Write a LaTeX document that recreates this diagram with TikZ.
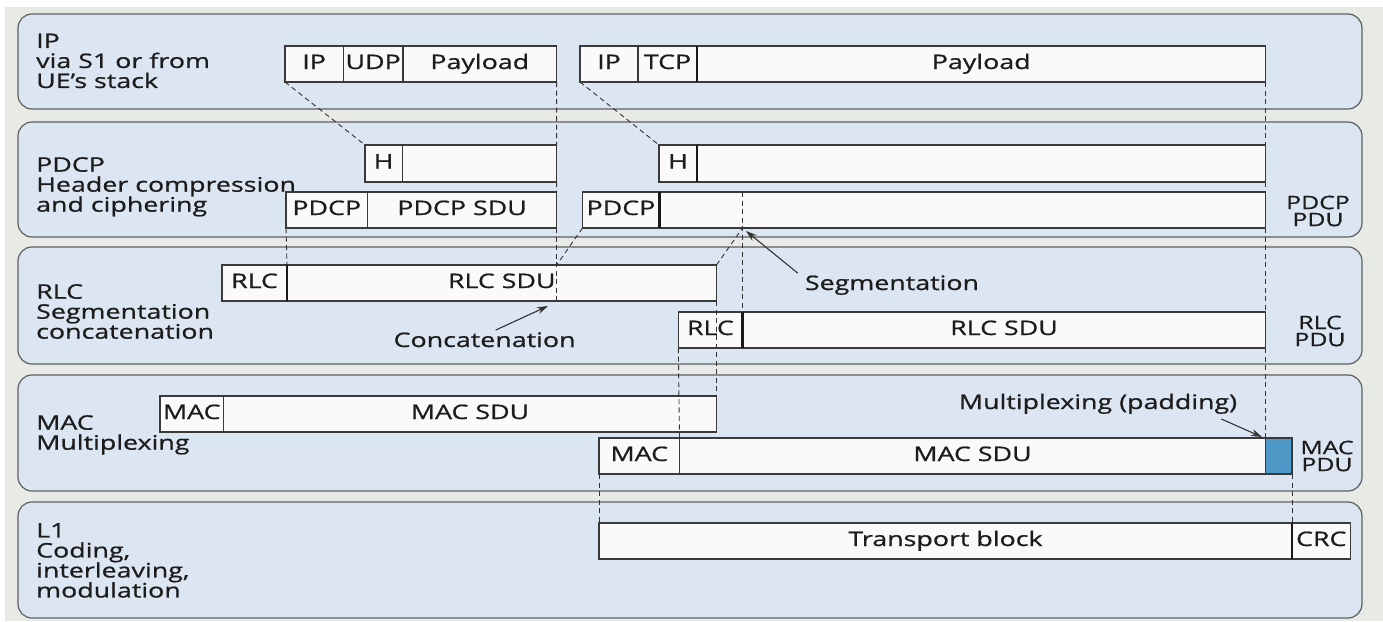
\documentclass[tikz,border=0pt]{standalone}
\usepackage{fontspec}
\setmainfont{Open Sans}[FakeStretch=1.34, FakeBold=0.8]
\usetikzlibrary{arrows.meta}

\definecolor{pagebg}{HTML}{E8EAE6}
\definecolor{layerfill}{HTML}{DCE6F3}
\definecolor{layerline}{HTML}{5C6060}
\definecolor{cellfill}{HTML}{FAFAFA}
\definecolor{cellline}{HTML}{3A3A3A}
\definecolor{padfill}{HTML}{4E98C8}
\definecolor{inktext}{HTML}{1C1C1C}

\tikzset{
  layer/.style={fill=layerfill, draw=layerline, line width=1.2pt, rounded corners=14pt},
  cellbox/.style={draw=cellline, fill=cellfill, line width=1.2pt, inner sep=0pt,
    outer sep=0pt, text=inktext, text height=14pt, text depth=4pt},
  thickdiv/.style={line width=2.6pt, draw=black!90},
  guide/.style={draw=black!80, line width=0.9pt, dash pattern=on 5pt off 3.5pt},
  pointer/.style={draw=black!80, line width=1.1pt, -{Stealth[length=11pt,width=7pt]}},
  layername/.style={anchor=north west, align=left, inner sep=0pt, text=inktext},
  pduname/.style={align=center, inner sep=0pt, text=inktext,
    font=\fontsize{18.5}{17}\selectfont},
  note/.style={anchor=base, inner sep=0pt, text=inktext},
}

% one field of a PDU: name, left, right, top, bottom, text
\newcommand{\pdufield}[6]{%
  \node[cellbox, minimum width={((#3)-(#2))*1pt}, minimum height={((#5)-(#4))*1pt}]
    (#1) at ({((#2)+(#3))/2},{((#4)+(#5))/2}) {#6};}

\begin{document}
\begin{tikzpicture}[x=1pt, y=-1pt, font=\fontsize{20}{20}\selectfont]
\useasboundingbox (0,0) rectangle (1383,621);
\fill[white] (0,0) rectangle (1383,621);
\fill[pagebg] (5,7) rectangle (1383,621);

% protocol layers
\draw[layer] (18,14) rectangle (1362,109);
\draw[layer] (18,122) rectangle (1362,237);
\draw[layer] (18,247) rectangle (1362,364);
\draw[layer] (18,375) rectangle (1362,491);
\draw[layer] (18,502) rectangle (1362,618);

\node[layername] (lip) at (36,33.5) {IP\\via S1 or from\\UE’s stack};
\node[layername] (lpdcp) at (36,157) {PDCP\\Header compression\\and ciphering};
\node[layername] (lrlc) at (36,284) {RLC\\Segmentation\\concatenation};
\node[layername] (lmac) at (36,415) {MAC\\Multiplexing};
\node[layername] (ll1) at (36,523) {L1\\Coding,\\interleaving,\\modulation};

% IP packets
\pdufield{ip1}{285}{343.3}{46}{82}{IP}
\pdufield{udp1}{343.3}{403}{46}{82}{UDP}
\pdufield{pay1}{403}{556.6}{46}{82}{Payload}
\pdufield{ip2}{580}{638}{46}{82}{IP}
\pdufield{tcp2}{638}{697}{46}{82}{TCP}
\pdufield{pay2}{697}{1265.5}{46}{82}{Payload}

% compressed headers
\pdufield{h1}{365}{402.3}{145}{182}{H}
\pdufield{hb1}{402.3}{556.6}{145}{182}{}
\pdufield{h2}{659}{697}{145}{182}{H}
\pdufield{hb2}{697}{1265.5}{145}{182}{}

% PDCP PDUs
\pdufield{pdcp1}{286}{367.5}{192}{228}{PDCP}
\pdufield{psdu1}{367.5}{556.6}{192}{228}{PDCP SDU}
\pdufield{pdcp2}{582.5}{659.4}{192}{228}{PDCP}
\pdufield{psdu2}{659.4}{1265.5}{192}{228}{}

% RLC PDUs
\pdufield{rlc1}{222}{287}{265}{301}{RLC}
\pdufield{rsdu1}{287}{716.5}{265}{301}{RLC SDU}
\pdufield{rlc2}{678.3}{742.5}{312}{348}{RLC}
\pdufield{rsdu2}{742.5}{1265.5}{312}{348}{RLC SDU}

% MAC PDUs
\pdufield{mac1}{160}{223.5}{396}{432}{MAC}
\pdufield{msdu1}{223.5}{716.5}{396}{432}{MAC SDU}
\pdufield{mac2}{599}{679.5}{438}{474}{MAC}
\pdufield{msdu2}{679.5}{1265.5}{438}{474}{MAC SDU}
\node[cellbox, fill=padfill, minimum width=26.5pt, minimum height=36pt] (pad) at (1278.75,456) {};

% transport block
\pdufield{tb}{599}{1292}{523}{559}{Transport block}
\pdufield{crc}{1292}{1350.5}{523}{559}{CRC}

% header boundaries
\draw[thickdiv] (tcp2.north east) -- (tcp2.south east);
\draw[thickdiv] (h2.north east) -- (h2.south east);
\draw[thickdiv] (pdcp2.north east) -- (pdcp2.south east);
\draw[thickdiv] (rlc1.north east) -- (rlc1.south east);
\draw[thickdiv] (rlc2.north east) -- (rlc2.south east);
\draw[thickdiv] (tb.north east) -- (tb.south east);

% mapping between layers
\coordinate (ctop) at (psdu1.east |- rsdu1.north);
\coordinate (cbot) at (psdu1.east |- rsdu1.south);
\coordinate (stop) at (rlc2.east |- psdu2.north);
\coordinate (sbot) at (rlc2.east |- psdu2.south);
\draw[guide] (ip1.south west) -- (h1.north west);
\draw[guide] (ip2.south west) -- (h2.north west);
\draw[guide] (pay1.south east) -- (hb1.north east);
\draw[guide] (hb1.south east) -- (psdu1.north east);
\draw[guide] (psdu1.south east) -- (cbot);
\draw[guide] (pdcp1.south west) -- (rsdu1.north west);
\draw[guide] (pdcp2.south west) -- (ctop);
\draw[guide] (stop) -- (rlc2.north east);
\draw[guide] (rsdu1.north east) -- (sbot);
\draw[guide] (rsdu1.south east) -- (msdu1.north east);
\draw[guide] (pay2.south east) -- (hb2.north east);
\draw[guide] (hb2.south east) -- (psdu2.north east);
\draw[guide] (psdu2.south east) -- (rsdu2.north east);
\draw[guide] (rsdu2.south east) -- (msdu2.north east);
\draw[guide] (rlc2.south west) -- (mac2.north east);
\draw[guide] (mac2.south west) -- (tb.north west);
\draw[guide] (pad.south east) -- (crc.north west);

% PDU names
\node[pduname] (pdcppdu) at (1318,211) {PDCP\\PDU};
\node[pduname] (rlcpdu) at (1320,331) {RLC\\PDU};
\node[pduname] (macpdu) at (1327,456) {MAC\\PDU};

% annotations
\node[note] (concat) at (484.6,347) {Concatenation};
\coordinate (concattip) at (548,306);
\draw[pointer] ([xshift=11pt,yshift=2pt]concat.north) -- (concattip);
\node[note] (segm) at (892,290) {Segmentation};
\coordinate (segtip) at (746,231);
\draw[pointer] ([xshift=-7pt,yshift=2pt]segm.north west) -- (segtip);
\node[note] (mux) at (1098,409) {Multiplexing (padding)};
\coordinate (muxtip) at (1262,437);
\draw[pointer] ([xshift=-16pt,yshift=-5pt]mux.south east) -- (muxtip);
\end{tikzpicture}
\end{document}
